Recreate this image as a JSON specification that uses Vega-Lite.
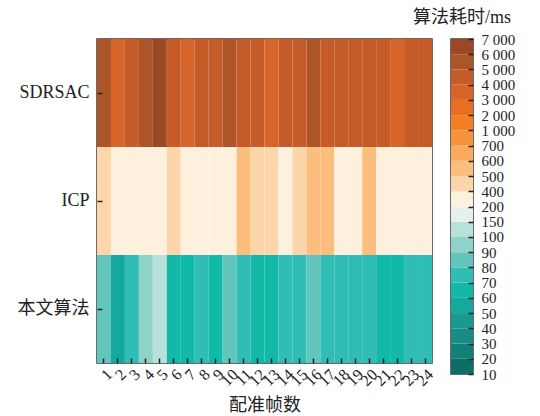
{
  "$schema": "https://vega.github.io/schema/vega-lite/v6.json",
  "padding": {"left": 16, "top": 8, "right": 5, "bottom": 3},
  "background": "white",
  "config": {
    "view": {"stroke": "#3a3a3a", "strokeWidth": 1.5},
    "font": "Liberation Serif, Noto Sans CJK SC",
    "axis": {
      "labelFont": "Liberation Serif, Noto Sans CJK SC",
      "titleFont": "Liberation Serif, Noto Sans CJK SC",
      "labelColor": "#222",
      "titleColor": "#222",
      "labelFontSize": 18,
      "titleFontWeight": "normal",
      "tickColor": "#222",
      "tickWidth": 1.5,
      "domain": false,
      "grid": false
    },
    "title": {"font": "Liberation Serif, Noto Sans CJK SC", "fontWeight": "normal", "color": "#222"}
  },
  "bounds": "flush",
  "spacing": 19,
  "hconcat": [
    {
      "width": 335,
      "height": 324,
      "data": {"values": [
        {"frame": 1, "algo": "SDRSAC", "time": 5420}, {"frame": 2, "algo": "SDRSAC", "time": 3610}, {"frame": 3, "algo": "SDRSAC", "time": 4480},
        {"frame": 4, "algo": "SDRSAC", "time": 5530}, {"frame": 5, "algo": "SDRSAC", "time": 6480}, {"frame": 6, "algo": "SDRSAC", "time": 4350},
        {"frame": 7, "algo": "SDRSAC", "time": 3520}, {"frame": 8, "algo": "SDRSAC", "time": 4610}, {"frame": 9, "algo": "SDRSAC", "time": 4390},
        {"frame": 10, "algo": "SDRSAC", "time": 5610}, {"frame": 11, "algo": "SDRSAC", "time": 4520}, {"frame": 12, "algo": "SDRSAC", "time": 4270},
        {"frame": 13, "algo": "SDRSAC", "time": 3740}, {"frame": 14, "algo": "SDRSAC", "time": 4460}, {"frame": 15, "algo": "SDRSAC", "time": 4580},
        {"frame": 16, "algo": "SDRSAC", "time": 5380}, {"frame": 17, "algo": "SDRSAC", "time": 4420}, {"frame": 18, "algo": "SDRSAC", "time": 4530},
        {"frame": 19, "algo": "SDRSAC", "time": 4610}, {"frame": 20, "algo": "SDRSAC", "time": 4380}, {"frame": 21, "algo": "SDRSAC", "time": 4490},
        {"frame": 22, "algo": "SDRSAC", "time": 3650}, {"frame": 23, "algo": "SDRSAC", "time": 4550}, {"frame": 24, "algo": "SDRSAC", "time": 4410},
        {"frame": 1, "algo": "ICP", "time": 430}, {"frame": 2, "algo": "ICP", "time": 320}, {"frame": 3, "algo": "ICP", "time": 290},
        {"frame": 4, "algo": "ICP", "time": 350}, {"frame": 5, "algo": "ICP", "time": 310}, {"frame": 6, "algo": "ICP", "time": 440},
        {"frame": 7, "algo": "ICP", "time": 300}, {"frame": 8, "algo": "ICP", "time": 330}, {"frame": 9, "algo": "ICP", "time": 280},
        {"frame": 10, "algo": "ICP", "time": 360}, {"frame": 11, "algo": "ICP", "time": 540}, {"frame": 12, "algo": "ICP", "time": 460},
        {"frame": 13, "algo": "ICP", "time": 470}, {"frame": 14, "algo": "ICP", "time": 340}, {"frame": 15, "algo": "ICP", "time": 450},
        {"frame": 16, "algo": "ICP", "time": 560}, {"frame": 17, "algo": "ICP", "time": 530}, {"frame": 18, "algo": "ICP", "time": 310},
        {"frame": 19, "algo": "ICP", "time": 370}, {"frame": 20, "algo": "ICP", "time": 550}, {"frame": 21, "algo": "ICP", "time": 300},
        {"frame": 22, "algo": "ICP", "time": 320}, {"frame": 23, "algo": "ICP", "time": 290}, {"frame": 24, "algo": "ICP", "time": 340},
        {"frame": 1, "algo": "本文算法", "time": 84}, {"frame": 2, "algo": "本文算法", "time": 56}, {"frame": 3, "algo": "本文算法", "time": 74},
        {"frame": 4, "algo": "本文算法", "time": 95}, {"frame": 5, "algo": "本文算法", "time": 118}, {"frame": 6, "algo": "本文算法", "time": 64},
        {"frame": 7, "algo": "本文算法", "time": 66}, {"frame": 8, "algo": "本文算法", "time": 73}, {"frame": 9, "algo": "本文算法", "time": 65},
        {"frame": 10, "algo": "本文算法", "time": 86}, {"frame": 11, "algo": "本文算法", "time": 75}, {"frame": 12, "algo": "本文算法", "time": 63},
        {"frame": 13, "algo": "本文算法", "time": 67}, {"frame": 14, "algo": "本文算法", "time": 76}, {"frame": 15, "algo": "本文算法", "time": 72},
        {"frame": 16, "algo": "本文算法", "time": 83}, {"frame": 17, "algo": "本文算法", "time": 74}, {"frame": 18, "algo": "本文算法", "time": 77},
        {"frame": 19, "algo": "本文算法", "time": 73}, {"frame": 20, "algo": "本文算法", "time": 75}, {"frame": 21, "algo": "本文算法", "time": 64},
        {"frame": 22, "algo": "本文算法", "time": 66}, {"frame": 23, "algo": "本文算法", "time": 76}, {"frame": 24, "algo": "本文算法", "time": 74}
      ]},
      "mark": {"type": "rect"},
      "encoding": {
        "x": {
          "field": "frame", "type": "ordinal",
          "scale": {"paddingInner": 0, "paddingOuter": 0},
          "axis": {"title": "配准帧数", "titleFontSize": 18, "titlePadding": 8, "labelAngle": -45, "labelFontSize": 16, "offset": -5, "tickSize": 5, "labelPadding": 3, "zindex": 1}
        },
        "y": {
          "field": "algo", "type": "nominal",
          "sort": ["SDRSAC", "ICP", "本文算法"],
          "scale": {"paddingInner": 0, "paddingOuter": 0},
          "axis": {"title": null, "offset": -5, "tickSize": 5, "labelPadding": 8, "zindex": 1}
        },
        "color": {
          "field": "time", "type": "quantitative",
          "scale": {
            "type": "threshold",
            "domain": [20, 30, 40, 50, 60, 70, 80, 90, 100, 150, 200, 400, 500, 600, 700, 1000, 2000, 3000, 4000, 5000, 6000],
            "range": ["#0d6e66", "#127f78", "#188c84", "#1a9990", "#15a89e", "#12b8a8", "#2fbdb6", "#62c6bc", "#8ed2c8", "#b7e1d9", "#e4f2e9", "#fdf0dc", "#fdd5ab", "#fcbe7c", "#fba95c", "#f89239", "#f37f22", "#e86f22", "#d7652a", "#c55b28", "#ad5428", "#9b4824"]
          },
          "legend": null
        }
      }
    },
    {
      "width": 22,
      "height": 335,
      "title": {"text": "算法耗时/ms", "anchor": "middle", "fontSize": 18, "offset": 5},
      "data": {"values": [
        {"lo": 10, "hi": 20}, {"lo": 20, "hi": 30}, {"lo": 30, "hi": 40}, {"lo": 40, "hi": 50}, {"lo": 50, "hi": 60},
        {"lo": 60, "hi": 70}, {"lo": 70, "hi": 80}, {"lo": 80, "hi": 90}, {"lo": 90, "hi": 100}, {"lo": 100, "hi": 150},
        {"lo": 150, "hi": 200}, {"lo": 200, "hi": 400}, {"lo": 400, "hi": 500}, {"lo": 500, "hi": 600}, {"lo": 600, "hi": 700},
        {"lo": 700, "hi": 1000}, {"lo": 1000, "hi": 2000}, {"lo": 2000, "hi": 3000}, {"lo": 3000, "hi": 4000}, {"lo": 4000, "hi": 5000},
        {"lo": 5000, "hi": 6000}, {"lo": 6000, "hi": 7000}
      ]},
      "mark": {"type": "rect"},
      "encoding": {
        "y": {
          "field": "lo", "type": "ordinal",
          "scale": {"type": "point", "padding": 0, "domain": [7000, 6000, 5000, 4000, 3000, 2000, 1000, 700, 600, 500, 400, 200, 150, 100, 90, 80, 70, 60, 50, 40, 30, 20, 10]},
          "axis": {"orient": "right", "title": null, "offset": -5, "tickSize": 5, "labelPadding": 8, "labelFontSize": 15, "zindex": 1, "labelExpr": "replace(format(datum.value, ','), ',', ' ')"}
        },
        "y2": {"field": "hi"},
        "color": {
          "field": "lo", "type": "quantitative",
          "scale": {
            "type": "threshold",
            "domain": [20, 30, 40, 50, 60, 70, 80, 90, 100, 150, 200, 400, 500, 600, 700, 1000, 2000, 3000, 4000, 5000, 6000],
            "range": ["#0d6e66", "#127f78", "#188c84", "#1a9990", "#15a89e", "#12b8a8", "#2fbdb6", "#62c6bc", "#8ed2c8", "#b7e1d9", "#e4f2e9", "#fdf0dc", "#fdd5ab", "#fcbe7c", "#fba95c", "#f89239", "#f37f22", "#e86f22", "#d7652a", "#c55b28", "#ad5428", "#9b4824"]
          },
          "legend": null
        }
      }
    }
  ]
}
